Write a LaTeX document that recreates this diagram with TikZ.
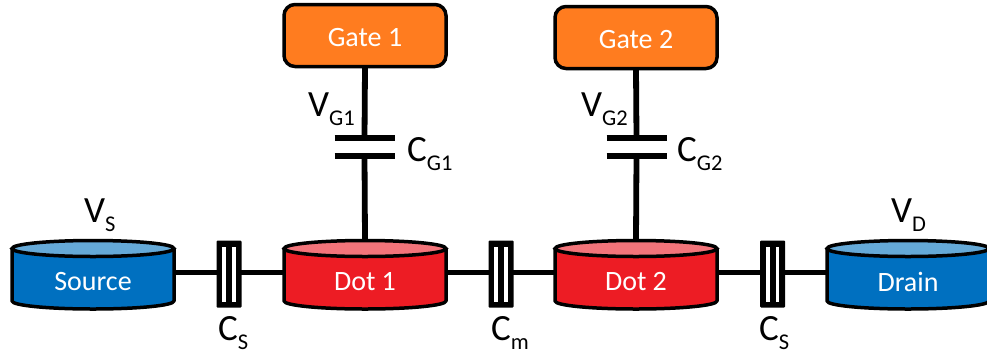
\documentclass[tikz,border=0pt]{standalone}
\usepackage{fontspec}
\setmainfont{Carlito}
\definecolor{blueB}{HTML}{0070C0}
\definecolor{blueT}{HTML}{65A9D7}
\definecolor{redB}{HTML}{ED1C24}
\definecolor{redT}{HTML}{F2747A}
\definecolor{orangeB}{HTML}{FF7C1F}
\tikzset{
  wire/.style={line width=5.8pt},
  plate/.style={line width=6.4pt},
  cylbox/.style={minimum width=164pt,minimum height=69pt,inner sep=0pt,outer sep=0pt},
  lbl/.style={text=white,font=\fontsize{28}{28}\selectfont,inner sep=0pt},
  gatebox/.style={draw,line width=3.5pt,rounded corners=11pt,fill=orangeB,minimum width=162pt,minimum height=62pt,inner sep=0pt,outer sep=0pt},
  capbox/.style={minimum width=24pt,minimum height=66pt,inner sep=0pt,outer sep=0pt},
  sym/.style={font=\fontsize{37}{37}\selectfont,inner sep=0pt,anchor=base west},
  capn/.style={minimum width=60pt,minimum height=24pt,inner sep=0pt,outer sep=0pt}
}
\newcommand{\sbs}[2]{#1{\fontsize{22.5}{22.5}\selectfont\raisebox{-9pt}{#2}}}
% name, center x, label, body, top
\newcommand{\cyl}[5]{%
  \node[cylbox] (#1) at (#2,275) {};
  \fill[#4] (#2-81,248.5) -- (#2-81,301) arc[start angle=180,delta angle=-180,x radius=81,y radius=8] -- (#2+81,248.5) -- cycle;
  \draw[line width=3.5pt,line join=round] (#2-81,248.5) -- (#2-81,301) arc[start angle=180,delta angle=-180,x radius=81,y radius=8] -- (#2+81,248.5);
  \draw[line width=3.5pt,fill=#5] (#2,248.5) ellipse[x radius=81,y radius=8];
  \node[lbl] at (#2,282) {#3};
}
\newcommand{\capv}[2]{%
  \node[capbox] (#1) at (#2,274) {};
  \fill[black,rounded corners=1pt] (#2-12.5,240.5) rectangle (#2+12.5,307.5);
  \fill[white] (#2-6.6,246.5) rectangle (#2-3,301.5);
  \fill[white] (#2+3,246.5) rectangle (#2+6.6,301.5);
}
\begin{document}
\begin{tikzpicture}[x=1pt,y=-1pt]
\useasboundingbox (0,0) rectangle (987,354);
% capacitors on gates
\node[capn] (cg1) at (364.5,147) {};
\node[capn] (cg2) at (636.5,147) {};
\node[gatebox] (g1) at (365,35.5) {};
\node[gatebox] (g2) at (636,37.5) {};
\node[lbl] at (365,38) {Gate 1};
\node[lbl] at (636,40) {Gate 2};
\cyl{src}{93}{Source}{blueB}{blueT}
\cyl{d1}{365}{Dot 1}{redB}{redT}
\cyl{d2}{636}{Dot 2}{redB}{redT}
\cyl{drn}{908}{Drain}{blueB}{blueT}
\capv{cs1}{229}
\capv{cm}{501}
\capv{cs2}{772.5}
\draw[wire] (src.east |- 0,272.5) -- (cs1.west |- 0,272.5);
\draw[wire] (cs1.east |- 0,272.5) -- (d1.west |- 0,272.5);
\draw[wire] (d1.east |- 0,272.5) -- (cm.west |- 0,272.5);
\draw[wire] (cm.east |- 0,272.5) -- (d2.west |- 0,272.5);
\draw[wire] (d2.east |- 0,272.5) -- (cs2.west |- 0,272.5);
\draw[wire] (cs2.east |- 0,272.5) -- (drn.west |- 0,272.5);
\draw[wire] (g1.south |- 0,67) -- (cg1.north |- 0,138);
\draw[wire] (g2.south |- 0,69) -- (cg2.north |- 0,138);
\draw[wire] (cg1.south |- 0,156) -- (d1.north |- 0,240);
\draw[wire] (cg2.south |- 0,156) -- (d2.north |- 0,240);
\draw[plate] (cg1.west |- 0,138) -- (cg1.east |- 0,138);
\draw[plate] (cg1.west |- 0,156) -- (cg1.east |- 0,156);
\draw[plate] (cg2.west |- 0,138) -- (cg2.east |- 0,138);
\draw[plate] (cg2.west |- 0,156) -- (cg2.east |- 0,156);
\node[sym] (vs) at (84,222) {\sbs{V}{S}};
\node[sym] (vd) at (891,222) {\sbs{V}{D}};
\node[sym] (vg1) at (308,116) {\sbs{V}{G1}};
\node[sym] (vg2) at (581,116) {\sbs{V}{G2}};
\node[sym] (cg1l) at (407,161) {\sbs{C}{G1}};
\node[sym] (cg2l) at (677,161) {\sbs{C}{G2}};
\node[sym] (csl1) at (218,340) {\sbs{C}{S}};
\node[sym] (cml) at (491,340) {\sbs{C}{m}};
\node[sym] (csl2) at (759,340) {\sbs{C}{S}};
\end{tikzpicture}
\end{document}
